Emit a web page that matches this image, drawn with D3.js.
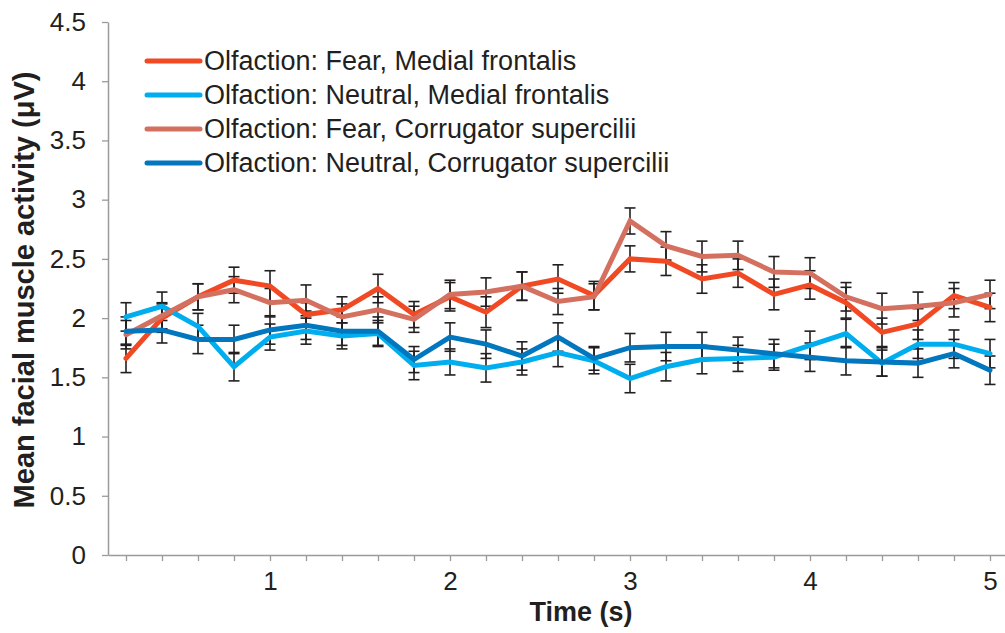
<!DOCTYPE html>
<html>
<head>
<meta charset="utf-8">
<script src="https://cdnjs.cloudflare.com/ajax/libs/d3/7.8.5/d3.min.js"></script>
<style>
  html, body { margin: 0; padding: 0; background: #fff; }
  svg { display: block; font-family: "Liberation Sans", Arial, sans-serif; }
</style>
</head>
<body>
<svg id="chart" width="1005" height="633"></svg>
<script>
// Time points (s)
const times = [0.2, 0.4, 0.6, 0.8, 1.0, 1.2, 1.4, 1.6, 1.8, 2.0, 2.2, 2.4, 2.6,
               2.8, 3.0, 3.2, 3.4, 3.6, 3.8, 4.0, 4.2, 4.4, 4.6, 4.8, 5.0];

// Series names
const seriesNames = [
  "Olfaction: Fear, Medial frontalis",
  "Olfaction: Neutral, Medial frontalis",
  "Olfaction: Fear, Corrugator supercilii",
  "Olfaction: Neutral, Corrugator supercilii"
];

// Mean activity (µV)
const fearMF = [1.66, 2.00, 2.18, 2.32, 2.27, 2.03, 2.07, 2.25, 2.03, 2.18, 2.05, 2.27, 2.33,
                2.19, 2.50, 2.48, 2.33, 2.38, 2.20, 2.28, 2.13, 1.88, 1.95, 2.19, 2.09];
const neutralMF = [2.01, 2.10, 1.93, 1.59, 1.84, 1.89, 1.85, 1.87, 1.60, 1.63, 1.58, 1.63, 1.71,
                   1.64, 1.49, 1.59, 1.65, 1.66, 1.67, 1.77, 1.87, 1.62, 1.78, 1.78, 1.70];
const fearCS = [1.86, 2.02, 2.18, 2.24, 2.13, 2.15, 2.01, 2.07, 1.99, 2.20, 2.22, 2.27, 2.14,
                2.18, 2.82, 2.61, 2.52, 2.53, 2.39, 2.38, 2.18, 2.08, 2.10, 2.13, 2.20];
const neutralCS = [1.89, 1.90, 1.82, 1.82, 1.90, 1.94, 1.89, 1.89, 1.65, 1.84, 1.78, 1.68, 1.84,
                   1.66, 1.75, 1.76, 1.76, 1.73, 1.70, 1.67, 1.64, 1.63, 1.62, 1.70, 1.56];

// Standard errors (µV)
const fearMFErr = [0.12, 0.12, 0.11, 0.11, 0.13, 0.10, 0.11, 0.12, 0.11, 0.12, 0.13, 0.12, 0.12,
                   0.12, 0.11, 0.12, 0.12, 0.12, 0.13, 0.12, 0.13, 0.12, 0.13, 0.11, 0.12];
const neutralMFErr = [0.12, 0.12, 0.11, 0.12, 0.11, 0.11, 0.11, 0.11, 0.12, 0.11, 0.12, 0.11, 0.12,
                      0.11, 0.12, 0.12, 0.12, 0.11, 0.11, 0.12, 0.12, 0.11, 0.12, 0.12, 0.12];
const fearCSErr = [0.12, 0.11, 0.11, 0.11, 0.12, 0.13, 0.11, 0.11, 0.11, 0.12, 0.12, 0.12, 0.11,
                   0.11, 0.11, 0.12, 0.13, 0.12, 0.13, 0.13, 0.12, 0.13, 0.12, 0.12, 0.12];
const neutralCSErr = [0.12, 0.11, 0.12, 0.12, 0.12, 0.12, 0.12, 0.12, 0.11, 0.12, 0.12, 0.12, 0.12,
                      0.10, 0.12, 0.12, 0.12, 0.11, 0.12, 0.12, 0.12, 0.12, 0.12, 0.12, 0.12];

const colors = ["#F04923", "#00AEEF", "#D4705F", "#0077BE"];

const yTicks = [0, 0.5, 1, 1.5, 2, 2.5, 3, 3.5, 4, 4.5];
const xLabels = [1, 2, 3, 4, 5];

const series = [
  { name: seriesNames[0], values: fearMF, errs: fearMFErr, color: colors[0] },
  { name: seriesNames[1], values: neutralMF, errs: neutralMFErr, color: colors[1] },
  { name: seriesNames[2], values: fearCS, errs: fearCSErr, color: colors[2] },
  { name: seriesNames[3], values: neutralCS, errs: neutralCSErr, color: colors[3] }
];

const svg = d3.select("#chart");
const axisColor = "#9a9a9a";
const textColor = "#231F20";
const fontStack = "'Liberation Sans', Arial, sans-serif";

const x = d3.scaleLinear().domain([0.1, 5.1]).range([108, 1008]);
const y = d3.scaleLinear().domain([0, 4.5]).range([555, 22]);

// Y axis
const yAxis = svg.append("g")
  .attr("transform", "translate(108,0)")
  .call(d3.axisLeft(y).tickValues(yTicks).tickSize(6).tickSizeOuter(0).tickFormat(d => String(d)));
yAxis.select(".domain").attr("stroke", axisColor).attr("stroke-width", 1.5);
yAxis.selectAll(".tick line").attr("stroke", axisColor).attr("stroke-width", 1.3);
yAxis.selectAll(".tick text")
  .attr("x", -22)
  .attr("fill", textColor)
  .style("font-size", "26px")
  .style("font-family", fontStack);

// X axis
const xAxis = svg.append("g")
  .attr("transform", "translate(0,555)")
  .call(d3.axisBottom(x).tickValues(times).tickSize(6).tickSizeOuter(0)
    .tickFormat(d => xLabels.includes(Math.round(d * 10) / 10) ? String(Math.round(d)) : ""));
xAxis.select(".domain").attr("stroke", axisColor).attr("stroke-width", 1.5);
xAxis.selectAll(".tick line").attr("stroke", axisColor).attr("stroke-width", 1.3);
xAxis.selectAll(".tick text")
  .attr("y", 17)
  .attr("fill", textColor)
  .style("font-size", "26px")
  .style("font-family", fontStack);

// Axis titles
svg.append("text")
  .attr("transform", "translate(34,290) rotate(-90)")
  .attr("text-anchor", "middle")
  .attr("fill", textColor)
  .style("font-size", "29px")
  .style("font-weight", "bold")
  .text("Mean facial muscle activity (μV)");

svg.append("text")
  .attr("x", 581)
  .attr("y", 621)
  .attr("text-anchor", "middle")
  .attr("fill", textColor)
  .style("font-size", "27px")
  .style("font-weight", "bold")
  .text("Time (s)");

// Error bars (drawn beneath the lines)
const capHalf = 5.5;
const errG = svg.append("g").attr("stroke", textColor).attr("stroke-width", 1.6).attr("fill", "none");
series.forEach(s => {
  s.values.forEach((v, i) => {
    const cx = x(times[i]);
    const yt = y(v + s.errs[i]);
    const yb = y(v - s.errs[i]);
    errG.append("line").attr("x1", cx).attr("x2", cx).attr("y1", yt).attr("y2", yb);
    errG.append("line").attr("x1", cx - capHalf).attr("x2", cx + capHalf).attr("y1", yt).attr("y2", yt);
    errG.append("line").attr("x1", cx - capHalf).attr("x2", cx + capHalf).attr("y1", yb).attr("y2", yb);
  });
});

// Series lines
const line = d3.line().x((d, i) => x(times[i])).y(d => y(d));
series.forEach(s => {
  svg.append("path")
    .datum(s.values)
    .attr("d", line)
    .attr("fill", "none")
    .attr("stroke", s.color)
    .attr("stroke-width", 5)
    .attr("stroke-linejoin", "miter")
    .attr("stroke-linecap", "round");
});

// Legend
const legend = svg.append("g");
series.forEach((s, i) => {
  const ly = 61 + i * 34;
  legend.append("line")
    .attr("x1", 147).attr("x2", 200)
    .attr("y1", ly).attr("y2", ly)
    .attr("stroke", s.color)
    .attr("stroke-width", 5)
    .attr("stroke-linecap", "round");
  legend.append("text")
    .attr("x", 204)
    .attr("y", ly + 9)
    .attr("fill", textColor)
    .style("font-size", "27px")
    .text(s.name);
});
</script>
</body>
</html>
